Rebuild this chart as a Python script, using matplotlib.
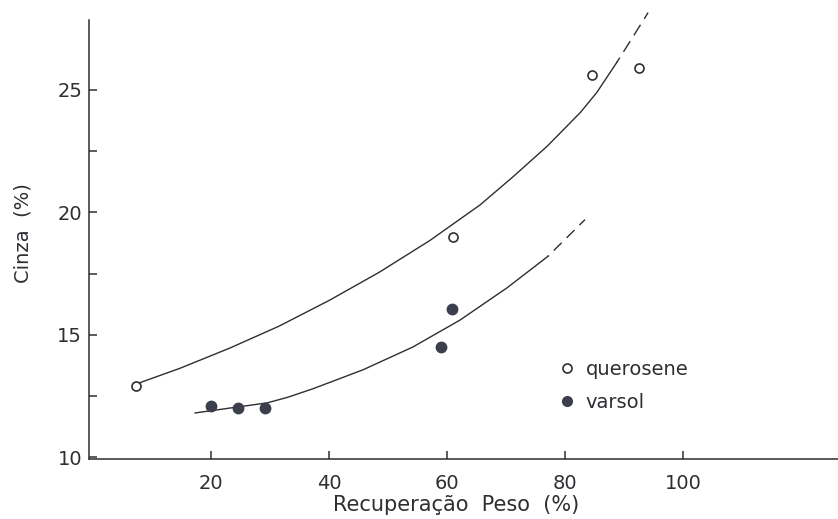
import matplotlib
matplotlib.use("Agg")
import matplotlib.pyplot as plt
from matplotlib.lines import Line2D

# ---- data ----
querosene_x = [7.3, 61.0, 84.6, 92.6]
querosene_y = [12.9, 19.0, 25.6, 25.9]

varsol_x = [20.0, 24.5, 29.1, 59.0, 60.8]
varsol_y = [12.1, 12.0, 12.0, 14.5, 16.05]

# fitted trend curves
q_curve_x = [7.4, 14.7, 23.2, 31.5, 40.0, 48.5, 57.1, 65.6, 71.2, 77.0, 82.6, 85.4, 88.8]
q_curve_y = [13.0, 13.63, 14.46, 15.35, 16.4, 17.55, 18.85, 20.3, 21.45, 22.7, 24.07, 24.89, 26.12]
q_dash_x = [88.8, 91.5, 94.1]
q_dash_y = [26.12, 27.15, 28.15]

v_curve_x = [17.3, 24.4, 29.5, 33.0, 37.3, 45.75, 54.2, 62.2, 70.2, 77.1]
v_curve_y = [11.81, 12.05, 12.22, 12.45, 12.8, 13.57, 14.5, 15.6, 16.92, 18.2]
v_dash_x = [77.1, 83.4]
v_dash_y = [18.2, 19.7]

x_ticks = [20, 40, 60, 80, 100]
y_ticks = [10, 15, 20, 25]
y_minor = [12.5, 17.5, 22.5]

ink = "#2e2e33"
dot = "#3b3f4c"

plt.rcParams['font.family'] = ['DejaVu Sans']

fig = plt.figure(figsize=(8.38, 5.19), dpi=100)
ax = fig.add_axes([0.1062, 0.1156, 0.8938, 0.8459])

ax.set_xlim(-0.7, 126.3)
ax.set_ylim(9.93, 27.85)

ax.spines['top'].set_visible(False)
ax.spines['right'].set_visible(False)
for s in ('left', 'bottom'):
    ax.spines[s].set_color(ink)
    ax.spines[s].set_linewidth(1.1)

ax.set_xticks(x_ticks)
ax.set_xticklabels([str(v) for v in x_ticks])
ax.set_yticks(y_ticks)
ax.set_yticklabels([str(v) for v in y_ticks])
ax.set_yticks(y_minor, minor=True)
ax.tick_params(axis='both', which='both', direction='in', color=ink, width=1.1,
               labelcolor=ink, labelsize=14)
ax.tick_params(axis='x', which='major', length=6, pad=11)
ax.tick_params(axis='y', which='major', length=6, pad=5)
ax.tick_params(axis='y', which='minor', length=6)

# curves
ax.plot(q_curve_x, q_curve_y, color=ink, lw=1.0, solid_joinstyle='round')
ax.plot(q_dash_x, q_dash_y, color=ink, lw=1.0, linestyle=(5, (9, 5)), clip_on=False)
ax.plot(v_curve_x, v_curve_y, color=ink, lw=1.0, solid_joinstyle='round')
ax.plot(v_dash_x, v_dash_y, color=ink, lw=1.0, linestyle=(7, (8, 5)))

# points
ax.plot(querosene_x, querosene_y, linestyle='none', marker='o', markersize=6.5,
        markerfacecolor='white', markeredgecolor=ink, markeredgewidth=1.2, zorder=3)
ax.plot(varsol_x, varsol_y, linestyle='none', marker='o', markersize=7.5,
        markerfacecolor=dot, markeredgecolor=dot, zorder=3)

handles = [
    Line2D([], [], linestyle='none', marker='o', markersize=6.5,
           markerfacecolor='white', markeredgecolor=ink, markeredgewidth=1.2),
    Line2D([], [], linestyle='none', marker='o', markersize=7,
           markerfacecolor=dot, markeredgecolor=dot),
]
leg = ax.legend(handles, ['querosene', 'varsol'], loc='upper left',
                bbox_to_anchor=(0.628, 0.225), frameon=False, fontsize=14,
                handlelength=0.8, handletextpad=0.55, labelspacing=0.72,
                borderpad=0, borderaxespad=0)
for t in leg.get_texts():
    t.set_color(ink)

ax.set_xlabel('Recuperação  Peso  (%)', fontsize=15, color=ink, va='top')
ax.xaxis.set_label_coords(0.49, -0.082)
ax.set_ylabel('Cinza  (%)', fontsize=14, color=ink)
ax.yaxis.set_label_coords(-0.075, 0.515)

fig.savefig('out.png', dpi=100, facecolor='white')
